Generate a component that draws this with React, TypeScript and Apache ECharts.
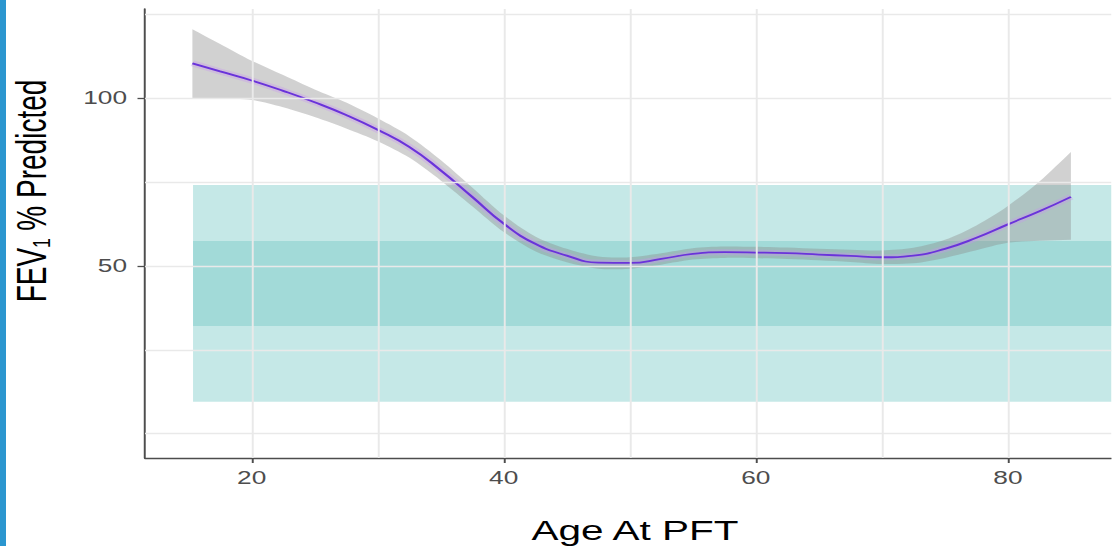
import React, { useEffect, useRef } from "react";
import * as echarts from "echarts";

// ---- data ----
const ages = [15.3, 17.5, 20, 22.5, 25, 27.5, 30, 32.5, 35, 37.5, 40, 42.5, 45, 47.5, 50, 52.5, 55, 57.5, 60, 62.5, 65, 67.5, 70, 72.5, 75, 77.5, 80, 82.5, 85];
const fitValues = [110.4, 108.0, 105.3, 102.2, 98.8, 95.0, 90.6, 85.5, 78.5, 70.6, 62.6, 56.6, 53.1, 51.0, 50.9, 52.1, 53.6, 54.1, 54.0, 53.8, 53.4, 53.0, 52.6, 53.1, 55.1, 58.4, 62.4, 66.3, 70.6];
const ciLower = [100.1, 99.9, 99.5, 97.3, 94.4, 91.0, 87.2, 82.3, 75.5, 67.8, 60.1, 54.4, 51.1, 49.2, 49.2, 50.4, 51.9, 52.4, 52.3, 52.1, 51.7, 51.2, 50.6, 50.8, 52.4, 54.7, 56.9, 57.5, 57.8];
const ciUpper = [120.6, 116.2, 111.2, 106.9, 102.6, 98.7, 94.0, 88.7, 81.6, 73.4, 65.1, 58.8, 55.1, 52.8, 52.6, 53.8, 55.3, 55.8, 55.7, 55.5, 55.1, 54.8, 54.6, 55.4, 57.8, 62.1, 67.9, 75.2, 84.0];
// reference bands (start age, lower, upper)
const bandStart = 15.35;
const outerBand = [9.5, 74.1];
const innerBand = [32.1, 57.45];
const xTicks = [20, 40, 60, 80];
const yTicks = [50, 100];
const xGrid = [20, 30, 40, 50, 60, 70, 80];
const yGrid = [0, 25, 50, 75, 100, 125];

const X_MIN = 11.54;
const X_MAX = 88.22;
const Y_MIN = -7.24;
const Y_MAX = 126.6;

const STRETCH = 1.5;
const W = 1112 / STRETCH;
const H = 546;
const FONT = "'Liberation Sans', Arial, Helvetica, sans-serif";

export default function App() {
  const ref = useRef<HTMLDivElement>(null);

  useEffect(() => {
    if (!ref.current) return;
    const chart = echarts.init(ref.current, undefined, { renderer: "svg" });

    const fitData = ages.map((a, i) => [a, fitValues[i]]);

    const axisColor = "#4d4d4d";
    const gridLineStyle = { color: "#e9e9e9", width: 1.3, type: "solid" as const };
    const bandColor = "rgba(110,198,196,0.4)";
    const last = ages.length - 1;

    const option: any = {
      animation: false,
      backgroundColor: "#ffffff",
      grid: { left: 96.67, right: 0, top: 9, bottom: 88, containLabel: false },
      xAxis: {
        type: "value",
        min: X_MIN,
        max: X_MAX,
        axisLine: { show: true, onZero: false, lineStyle: { color: axisColor, width: 1.3 } },
        axisTick: { show: true, customValues: xTicks, length: 5, lineStyle: { color: axisColor, width: 1.3 } },
        axisLabel: { customValues: xTicks, color: axisColor, fontSize: 17.5, fontFamily: FONT, margin: 11 },
        splitLine: { show: false },
      },
      yAxis: {
        type: "value",
        min: Y_MIN,
        max: Y_MAX,
        axisLine: { show: true, onZero: false, lineStyle: { color: axisColor, width: 1.3 } },
        axisTick: { show: true, customValues: yTicks, length: 5, lineStyle: { color: axisColor, width: 1.3 } },
        axisLabel: { customValues: yTicks, color: axisColor, fontSize: 17.5, fontFamily: FONT, margin: 12 },
        splitLine: { show: false },
      },
      series: [
        {
          name: "grid",
          type: "line",
          data: [[X_MIN, Y_MIN]],
          symbol: "none",
          lineStyle: { opacity: 0, width: 0 },
          z: 1,
          silent: true,
          markLine: {
            silent: true,
            symbol: ["none", "none"],
            label: { show: false },
            lineStyle: gridLineStyle,
            emphasis: { disabled: true },
            data: [
              ...yGrid.map((v) => ({ yAxis: v })),
              ...xGrid.map((v) => ({ xAxis: v })),
            ],
          },
        },
        {
          name: "95% CI",
          type: "custom",
          data: [[ages[0], ciLower[0]]],
          z: 2,
          silent: true,
          clip: true,
          renderItem: (_params: any, api: any) => {
            const up = ages.map((a, i) => api.coord([a, ciUpper[i]]));
            const lo = ages.map((a, i) => api.coord([a, ciLower[i]])).reverse();
            // duplicate corner points to keep the ends square
            const pts = [up[0], ...up, up[last], lo[0], ...lo, lo[last]];
            return {
              type: "polygon",
              shape: { points: pts, smooth: 0.3 },
              style: { fill: "rgba(140,140,140,0.4)", stroke: "none" },
            };
          },
        },
        {
          name: "fit halo",
          type: "line",
          data: fitData,
          smooth: 0.5,
          symbol: "none",
          lineStyle: { color: "rgba(200,150,240,0.35)", width: 6 },
          z: 2,
          silent: true,
        },
        {
          name: "FEV1 fit",
          type: "line",
          data: fitData,
          smooth: 0.5,
          symbol: "none",
          lineStyle: { color: "#6a33da", width: 1.8 },
          z: 3,
          silent: true,
        },
        {
          name: "bands",
          type: "line",
          data: [[bandStart, outerBand[0]]],
          symbol: "none",
          lineStyle: { opacity: 0, width: 0 },
          z: 4,
          silent: true,
          markArea: {
            silent: true,
            itemStyle: { color: bandColor },
            emphasis: { disabled: true },
            data: [
              [{ xAxis: bandStart, yAxis: outerBand[0] }, { xAxis: X_MAX, yAxis: outerBand[1] }],
              [{ xAxis: bandStart, yAxis: innerBand[0] }, { xAxis: X_MAX, yAxis: innerBand[1] }],
            ],
          },
        },
      ],
      graphic: [
        {
          type: "rect",
          left: 0,
          top: 0,
          shape: { x: 0, y: 0, width: 4, height: H },
          style: { fill: "#2b96cf" },
          silent: true,
        },
        {
          type: "text",
          x: 21,
          y: 191,
          rotation: Math.PI / 2,
          style: {
            text: "FEV\u2081 % Predicted",
            fontSize: 28,
            fontFamily: FONT,
            fill: "#000000",
            align: "center",
            verticalAlign: "middle",
          },
          silent: true,
        },
        {
          type: "text",
          x: 423.3,
          y: 531,
          style: {
            text: "Age At PFT",
            fontSize: 27,
            fontFamily: FONT,
            fill: "#000000",
            align: "center",
            verticalAlign: "middle",
          },
          silent: true,
        },
      ],
    };

    chart.setOption(option);
    return () => chart.dispose();
  }, []);

  return (
    <div
      style={{
        position: "absolute",
        left: 0,
        top: 0,
        width: 1112,
        height: H,
        overflow: "hidden",
        background: "#ffffff",
      }}
    >
      <div
        ref={ref}
        style={{
          width: W,
          height: H,
          transform: `scaleX(${STRETCH})`,
          transformOrigin: "0 0",
        }}
      />
    </div>
  );
}
